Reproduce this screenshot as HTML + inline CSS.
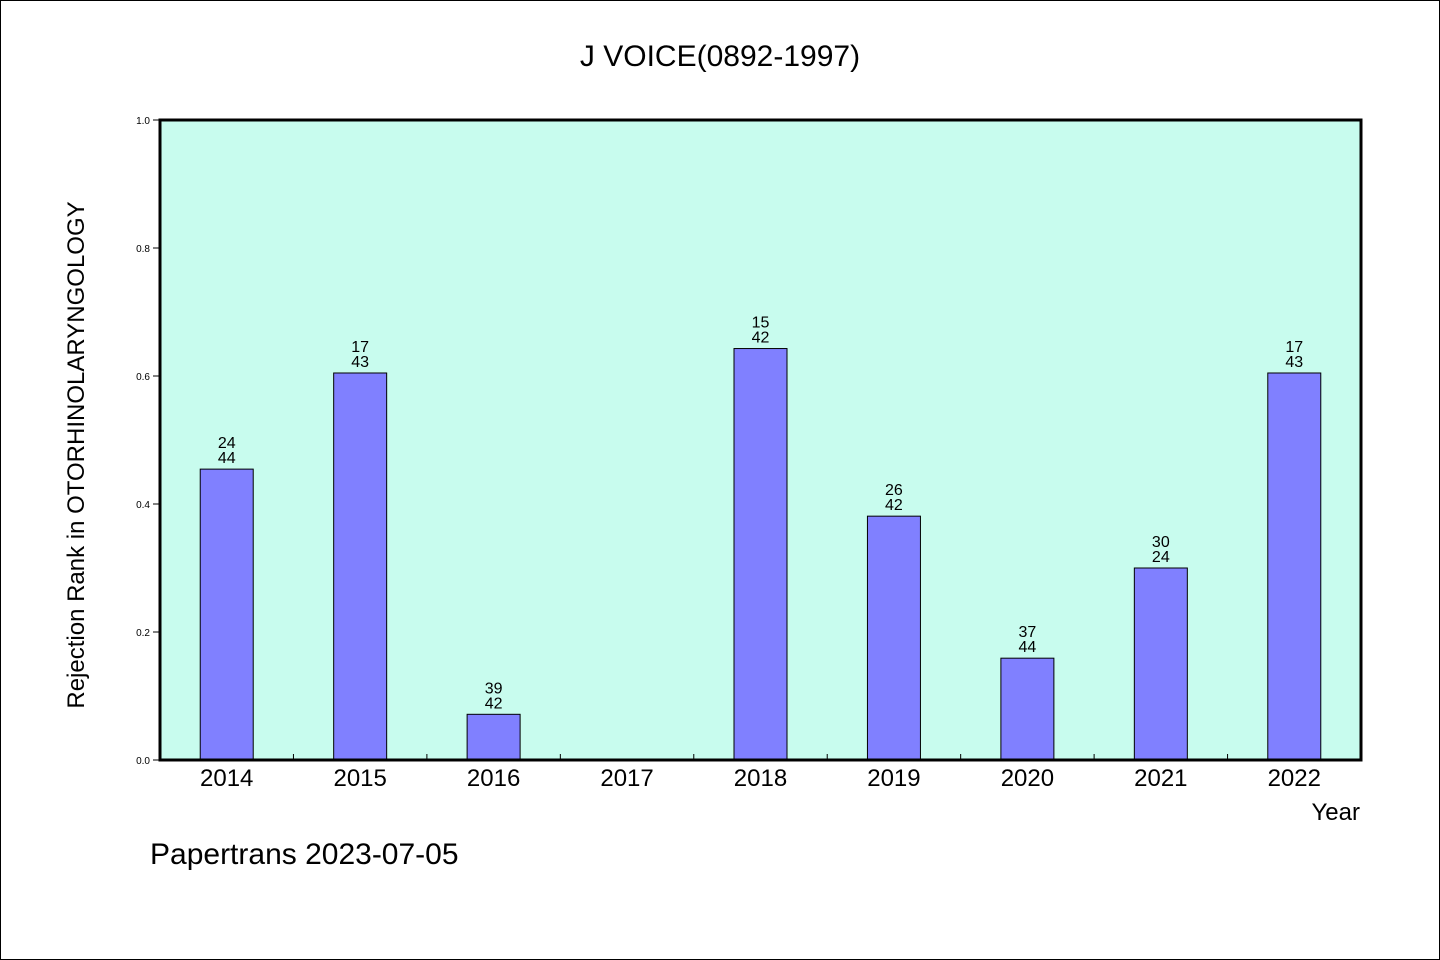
<!DOCTYPE html>
<html><head><meta charset="utf-8"><style>
html,body{margin:0;padding:0;background:#fff}
svg{display:block}
text{font-family:"WenQuanYi Zen Hei","Liberation Sans",sans-serif;fill:#000}
</style></head><body>
<svg id="chart" width="1440" height="960" viewBox="0 0 1440 960">
<rect x="0.5" y="0.5" width="1439" height="959" fill="#fff" stroke="#000"/>
<text x="720" y="66" font-size="30" text-anchor="middle">J VOICE(0892-1997)</text>
<rect x="160" y="120" width="1201" height="640" fill="#c8fcee"/>
<g id="marks"></g>
<rect x="160" y="120" width="1201" height="640" fill="none" stroke="#000" stroke-width="3"/>
<text transform="translate(84,455) rotate(-90)" font-size="24" text-anchor="middle">Rejection Rank in OTORHINOLARYNGOLOGY</text>
<text x="1360" y="820" font-size="24" text-anchor="end">Year</text>
<text x="150" y="864" font-size="30">Papertrans 2023-07-05</text>
</svg>
<script>
const categories=["2014","2015","2016","2017","2018","2019","2020","2021","2022"];
const values=[0.4545,0.6047,0.0714,null,0.6429,0.381,0.1591,0.30,0.6047];
const ranks=["24","17","39","","15","26","37","30","17"];
const totals=["44","43","42","","42","42","44","24","43"];
const yTicks=["0.0","0.2","0.4","0.6","0.8","1.0"];
const X0=160,X1=1361,Y0=760,Y1=120;
const step=(X1-X0)/categories.length;
const xC=i=>X0+step*(i+0.5);
const y=v=>Y0-(Y0-Y1)*v;
const NS="http://www.w3.org/2000/svg";
const g=document.getElementById("marks");
function mk(tag,attrs,txt){const e=document.createElementNS(NS,tag);for(const k in attrs)e.setAttribute(k,attrs[k]);if(txt!=null)e.textContent=txt;g.appendChild(e);return e;}
yTicks.forEach(t=>{const v=parseFloat(t);
 const l=mk("line",{x1:153,x2:160,y1:y(v),y2:y(v),stroke:"#000"});
 
 
 const tx=mk("text",{x:150,y:y(v)+4,"font-size":10,"text-anchor":"end"},t);
 
 
});
for(let i=1;i<categories.length;i++){
 const l=mk("line",{x1:X0+step*i,x2:X0+step*i,y1:Y0,y2:Y0-6,stroke:"#000"});
 
 
}
categories.forEach((c,i)=>{
 const tx=mk("text",{x:xC(i),y:786,"font-size":24,"text-anchor":"middle"},c);
 
 
 const v=values[i];
 if(v==null)return;
 const b=mk("rect",{x:xC(i)-26.5,y:y(v),width:53,height:Y0-y(v),fill:"#8080ff",stroke:"#000","stroke-width":1});
 
 
 const r=mk("text",{x:xC(i),y:y(v)-21,"font-size":16,"text-anchor":"middle"},ranks[i]);
 
 
 const t=mk("text",{x:xC(i),y:y(v)-6,"font-size":16,"text-anchor":"middle"},totals[i]);
 
 
});
</script>
</body></html>
